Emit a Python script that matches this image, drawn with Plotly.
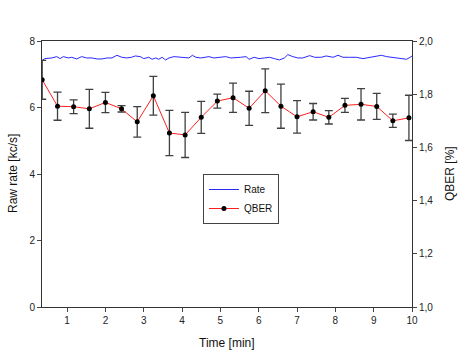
import plotly.graph_objects as go

# Raw rate (kc/s), blue trace on left axis
rate_time = [0.34, 0.42, 0.60, 0.73, 0.82, 0.90, 1.03, 1.12, 1.25, 1.38, 1.51, 1.65, 1.78, 1.91,
             2.04, 2.17, 2.30, 2.43, 2.56, 2.68, 2.78, 2.91, 3.00, 3.13, 3.22, 3.31, 3.39, 3.48,
             3.57, 3.66, 3.79, 3.92, 4.05, 4.18, 4.27, 4.36, 4.49, 4.62, 4.70, 4.83, 4.97, 5.14,
             5.27, 5.40, 5.53, 5.67, 5.75, 5.88, 6.01, 6.15, 6.28, 6.41, 6.54, 6.67, 6.76, 6.89,
             7.02, 7.15, 7.33, 7.46, 7.63, 7.76, 7.94, 8.07, 8.20, 8.37, 8.55, 8.72, 8.90, 9.07,
             9.20, 9.34, 9.47, 9.60, 9.73, 9.86, 9.95, 10.0]
rate_vals = [7.41, 7.47, 7.49, 7.53, 7.47, 7.53, 7.49, 7.51, 7.46, 7.53, 7.49, 7.49, 7.46, 7.46,
             7.49, 7.49, 7.57, 7.51, 7.49, 7.51, 7.55, 7.53, 7.47, 7.51, 7.45, 7.49, 7.45, 7.51,
             7.43, 7.49, 7.53, 7.51, 7.49, 7.49, 7.57, 7.51, 7.49, 7.51, 7.53, 7.49, 7.50, 7.53,
             7.49, 7.49, 7.51, 7.53, 7.45, 7.51, 7.47, 7.49, 7.51, 7.47, 7.43, 7.49, 7.59, 7.53,
             7.49, 7.49, 7.56, 7.51, 7.51, 7.55, 7.51, 7.57, 7.51, 7.51, 7.51, 7.47, 7.51, 7.55,
             7.57, 7.53, 7.51, 7.51, 7.49, 7.45, 7.51, 7.55]

# QBER (%) with error bars, right axis
qber_time = [0.35, 0.75, 1.17, 1.58, 2.00, 2.42, 2.83, 3.25, 3.67, 4.08, 4.50, 4.92,
             5.33, 5.75, 6.17, 6.58, 7.00, 7.42, 7.83, 8.25, 8.67, 9.08, 9.50, 9.92]
qber_vals = [1.854, 1.755, 1.753, 1.745, 1.769, 1.745, 1.696, 1.794, 1.654, 1.647, 1.713, 1.774,
             1.787, 1.747, 1.813, 1.755, 1.715, 1.734, 1.713, 1.758, 1.762, 1.754, 1.700, 1.711]
qber_err = [0.073, 0.053, 0.026, 0.073, 0.038, 0.012, 0.057, 0.073, 0.085, 0.085, 0.060, 0.026,
            0.055, 0.064, 0.082, 0.083, 0.061, 0.031, 0.025, 0.026, 0.059, 0.049, 0.025, 0.085]

left_ticks = [0, 2, 4, 6, 8]
right_ticks = [1.0, 1.2, 1.4, 1.6, 1.8, 2.0]
right_labels = ['1,0', '1,2', '1,4', '1,6', '1,8', '2,0']
x_ticks = list(range(1, 11))

fig = go.Figure()

fig.add_trace(go.Scatter(
    x=rate_time, y=rate_vals, mode='lines', name='Rate',
    line=dict(color='#2a2aff', width=1)
))

fig.add_trace(go.Scatter(
    x=qber_time, y=qber_vals, mode='lines+markers', name='QBER', yaxis='y2',
    line=dict(color='#ff2020', width=1),
    marker=dict(color='black', size=5),
    error_y=dict(type='data', array=qber_err, color='#404040', thickness=1.3, width=4)
))

axis_font = dict(family='Arial, Liberation Sans', size=10, color='#222')
title_font = dict(family='Arial, Liberation Sans', size=12, color='#111')

fig.update_layout(
    width=461, height=354,
    margin=dict(l=42, r=49, t=41, b=47),
    paper_bgcolor='white', plot_bgcolor='white',
    font=dict(family='Arial, Liberation Sans', color='#111'),
    xaxis=dict(
        range=[0.345, 10], tickvals=x_ticks, ticks='outside', ticklen=4,
        showgrid=False, zeroline=False, showline=True, linecolor='#333', linewidth=1,
        mirror=True, tickfont=axis_font, automargin=False
    ),
    yaxis=dict(
        range=[0, 8], tickvals=left_ticks, ticks='outside', ticklen=4,
        showgrid=False, zeroline=False, showline=True, linecolor='#333', linewidth=1,
        tickfont=axis_font, automargin=False
    ),
    yaxis2=dict(
        range=[1.0, 2.0], tickvals=right_ticks, ticktext=right_labels,
        overlaying='y', side='right', ticks='outside', ticklen=4,
        showgrid=False, zeroline=False, showline=True, linecolor='#333', linewidth=1,
        tickfont=axis_font, automargin=False
    ),
    legend=dict(
        x=0.435, y=0.5, xanchor='left', yanchor='top',
        bgcolor='white', bordercolor='#444', borderwidth=1,
        font=dict(family='Arial, Liberation Sans', size=10, color='#111'),
        tracegroupgap=0
    ),
    showlegend=True
)

# axis titles placed by hand so they sit where the original puts them
fig.add_annotation(text='Time [min]', xref='paper', yref='paper', x=0.5, y=0,
                   yanchor='middle', yshift=-36, showarrow=False, font=title_font)
fig.add_annotation(text='Raw rate [kc/s]', xref='paper', yref='paper', x=0, y=0.5,
                   xanchor='center', xshift=-29, textangle=-90, showarrow=False, font=title_font)
fig.add_annotation(text='QBER [%]', xref='paper', yref='paper', x=1, y=0.5,
                   xanchor='center', xshift=38, textangle=-90, showarrow=False, font=title_font)

# drop the default 8px body margin so the figure fills the window
fig.write_html("out.html", config={'displayModeBar': False},
               post_script="document.body.style.margin = '0';")
